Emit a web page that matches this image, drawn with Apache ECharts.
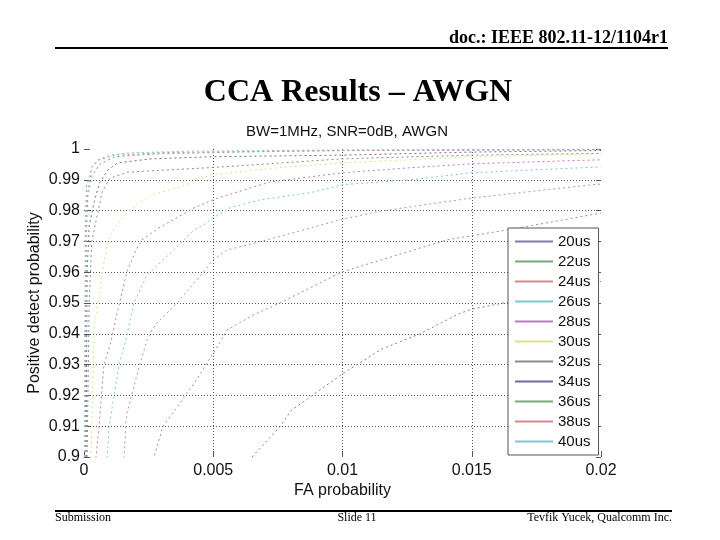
<!DOCTYPE html>
<html>
<head>
<meta charset="utf-8">
<script src="https://cdn.jsdelivr.net/npm/echarts@6/dist/echarts.min.js"></script>
<style>html,body{margin:0;padding:0;background:#fff}#c{width:720px;height:540px}</style>
</head>
<body>
<div id="c"></div>
<script>
// ---- data ----
const seriesNames = ['20us','22us','24us','26us','28us','30us','32us','34us','36us','38us','40us'];
const xTickLabels = ['0','0.005','0.01','0.015','0.02'];
const yTickLabels = ['0.9','0.91','0.92','0.93','0.94','0.95','0.96','0.97','0.98','0.99','1'];

const us20 = [[0.0065,0.900],[0.0076,0.910],[0.0080,0.915],[0.0095,0.924],[0.0100,0.927],[0.0115,0.935],[0.0130,0.940],[0.0145,0.9465],[0.0150,0.948],[0.0164,0.9503],[0.0180,0.9535],[0.0200,0.957]];
const us22 = [[0.00267,0.899],[0.00306,0.910],[0.00371,0.9175],[0.00429,0.9243],[0.00476,0.9305],[0.00515,0.9357],[0.00553,0.9412],[0.00654,0.9461],[0.00758,0.950],[0.00998,0.9601],[0.01404,0.9705],[0.01636,0.9737],[0.0200,0.9792]];
const us24 = [[0.00155,0.8996],[0.00162,0.9113],[0.00166,0.9142],[0.00213,0.9292],[0.00244,0.938],[0.00263,0.9412],[0.00282,0.9435],[0.0036,0.950],[0.0046,0.9598],[0.00499,0.964],[0.00553,0.9672],[0.00708,0.9705],[0.0099,0.977],[0.01133,0.9796],[0.01261,0.9812],[0.01501,0.9841],[0.01965,0.9884],[0.0200,0.9886]];
const us26 = [[0.00089,0.8996],[0.00097,0.9097],[0.00135,0.9298],[0.00162,0.938],[0.00193,0.950],[0.00244,0.9591],[0.00298,0.9633],[0.00387,0.9705],[0.00426,0.9737],[0.00464,0.9754],[0.00487,0.977],[0.00565,0.9809],[0.00681,0.9835],[0.00874,0.9858],[0.01002,0.9884],[0.01261,0.990],[0.01501,0.9923],[0.01737,0.9932],[0.0200,0.9942]];
const us28 = [[0.00046,0.8996],[0.00058,0.9097],[0.00077,0.9298],[0.00104,0.9373],[0.00128,0.9467],[0.00166,0.9601],[0.00201,0.9672],[0.00224,0.9705],[0.0029,0.9744],[0.00426,0.9809],[0.00507,0.9838],[0.0072,0.9893],[0.01002,0.9923],[0.01261,0.9939],[0.01501,0.9952],[0.0200,0.9965]];
const us30 = [[0.00027,0.8996],[0.00031,0.912],[0.00035,0.9282],[0.00039,0.9419],[0.00058,0.952],[0.00077,0.9633],[0.00097,0.9711],[0.00124,0.975],[0.00166,0.9792],[0.00193,0.9812],[0.00259,0.9851],[0.00375,0.9877],[0.00491,0.9916],[0.00747,0.9939],[0.01002,0.9955],[0.01261,0.9965],[0.01501,0.9975],[0.0200,0.9984]];
const us32 = [[0.00012,0.900],[0.0002,0.950],[0.0003,0.970],[0.0005,0.978],[0.0007,0.986],[0.0010,0.9905],[0.0017,0.9925],[0.0050,0.994],[0.0100,0.9968],[0.0150,0.998],[0.0200,0.9986]];
const us34 = [[0.00008,0.900],[0.00012,0.960],[0.0002,0.975],[0.0004,0.983],[0.0006,0.989],[0.0009,0.993],[0.0013,0.9955],[0.0026,0.9968],[0.0050,0.9975],[0.0100,0.998],[0.0150,0.999],[0.0200,0.9995]];
const us36 = [[0.00005,0.900],[0.00008,0.970],[0.00015,0.985],[0.0003,0.991],[0.0006,0.995],[0.0012,0.9975],[0.0030,0.9985],[0.0060,0.999],[0.0100,0.9995],[0.0200,0.9998]];
const us38 = [[0.00003,0.900],[0.00005,0.975],[0.0001,0.988],[0.0003,0.994],[0.0006,0.9965],[0.0012,0.998],[0.0030,0.9988],[0.0080,0.9994],[0.0200,0.9998]];
const us40 = [[0.00002,0.900],[0.00008,0.9825],[0.0003,0.9942],[0.0005,0.9964],[0.0010,0.998],[0.0017,0.9987],[0.0040,0.9993],[0.0100,0.9997],[0.0200,1.0]];

const allData = [us20,us22,us24,us26,us28,us30,us32,us34,us36,us38,us40];
const colors = ['#7c7cae','#78a878','#d88a8a','#7cc8d0','#b87cc0','#e2e28a','#8c8c8c','#6e6e9c','#78a878','#d88a8a','#7cc8d0'];

const chart = echarts.init(document.getElementById('c'), null, {renderer:'canvas'});
const sans = 'Liberation Sans';

const series = seriesNames.map((n,i)=>({
  name:n, type:'line', data:allData[i], symbol:'none', smooth:false,
  lineStyle:{color:colors[i], width:1, type:[2,3]}, itemStyle:{color:colors[i]},
  emphasis:{disabled:true}, z:2
}));

chart.setOption({
  animation:false,
  backgroundColor:'#fff',
  title:{text:'BW=1MHz, SNR=0dB, AWGN', left:342, top:119, textAlign:'center',
    textStyle:{fontFamily:sans, fontSize:15, fontWeight:'normal', color:'#111'}},
  grid:{left:84, right:119, top:149, bottom:83, containLabel:false},
  legend:{orient:'vertical', left:508, top:228, itemWidth:38, itemHeight:14, itemGap:5,
    padding:[6,8,6,7], backgroundColor:'#fff', borderColor:'#555', borderWidth:1, borderRadius:0,
    textStyle:{fontFamily:sans, fontSize:15, color:'#111'},
    data:seriesNames.map((n,i)=>({name:n, icon:'path://M0,0H38V2H0Z',
      itemStyle:{color:colors[i], opacity:1, borderWidth:0},
      lineStyle:{color:colors[i], type:'solid', width:1, opacity:1}})),
    z:10},
  xAxis:{type:'value', min:0, max:0.02, interval:0.005,
    name:'FA probability', nameLocation:'middle', nameGap:26, nameMoveOverlap:false,
    nameTextStyle:{fontFamily:sans, fontSize:16, color:'#111'},
    axisLine:{show:false},
    axisTick:{show:true, inside:true, length:6, lineStyle:{color:'#555'}},
    axisLabel:{fontFamily:sans, fontSize:16, color:'#111', margin:6,
      formatter:(v)=>xTickLabels[Math.round(v/0.005)]},
    splitLine:{show:true, showMinLine:false, showMaxLine:false, lineStyle:{color:'#555', type:[1,2], width:1}}},
  yAxis:[{type:'value', min:0.9, max:1, interval:0.01,
    name:'Positive detect probability', nameLocation:'middle', nameGap:41, nameMoveOverlap:false,
    nameTextStyle:{fontFamily:sans, fontSize:16, color:'#111'},
    axisLine:{show:false},
    axisTick:{show:true, inside:true, length:6, lineStyle:{color:'#555'}},
    axisLabel:{fontFamily:sans, fontSize:16, color:'#111', margin:4,
      formatter:(v)=>yTickLabels[Math.round((v-0.9)/0.01)]},
    splitLine:{show:true, showMinLine:false, showMaxLine:false, lineStyle:{color:'#555', type:[1,2], width:1}}},
   {type:'value', min:0.9, max:1, interval:0.01, position:'right',
    axisLine:{show:false}, axisLabel:{show:false}, splitLine:{show:false},
    axisTick:{show:true, inside:true, length:5, lineStyle:{color:'#555'}}}],
  series:series,
  graphic:[
    {type:'text', x:668, y:47, style:{text:'doc.: IEEE 802.11-12/1104r1', font:'bold 18px "Liberation Serif"', fill:'#000', align:'right', verticalAlign:'bottom'}},
    {type:'line', shape:{x1:55,y1:48,x2:668,y2:48}, style:{stroke:'#000', lineWidth:2}},
    {type:'text', x:358, y:93, style:{text:'CCA Results \u2013 AWGN', font:'bold 32px "Liberation Serif"', fill:'#000', align:'center', verticalAlign:'middle'}},
    {type:'line', shape:{x1:55,y1:511,x2:672,y2:511}, style:{stroke:'#000', lineWidth:2}},
    {type:'text', x:55, y:518, style:{text:'Submission', font:'12px "Liberation Serif"', fill:'#000', align:'left', verticalAlign:'middle'}},
    {type:'text', x:357, y:518, style:{text:'Slide 11', font:'12px "Liberation Serif"', fill:'#000', align:'center', verticalAlign:'middle'}},
    {type:'text', x:672, y:518, style:{text:'Tevfik Yucek, Qualcomm Inc.', font:'12px "Liberation Serif"', fill:'#000', align:'right', verticalAlign:'middle'}}
  ]
});
</script>
</body>
</html>
